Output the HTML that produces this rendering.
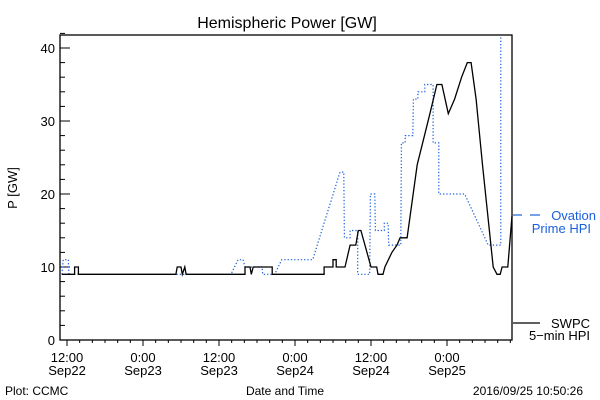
<!DOCTYPE html>
<html><head><meta charset="utf-8"><style>
body{margin:0;background:#fff;}
svg{display:block;font-family:"Liberation Sans",sans-serif;}
</style></head><body>
<svg id="chart" width="600" height="400" viewBox="0 0 600 400">
<rect width="600" height="400" fill="#fff"/>
<text x="287" y="28" font-size="16" text-anchor="middle">Hemispheric Power [GW]</text>
<rect x="60" y="35" width="452" height="305" fill="none" stroke="#000" stroke-width="1.3"/>
<g id="axes"></g>
<g id="series"></g>
<text transform="translate(17,188) rotate(-90)" font-size="13" text-anchor="middle">P [GW]</text>
<text x="285" y="395" font-size="12" text-anchor="middle">Date and Time</text>
<text x="5" y="395" font-size="12">Plot: CCMC</text>
<text x="583" y="395" font-size="12" text-anchor="end">2016/09/25 10:50:26</text>
<g>
<line x1="513" y1="215" x2="522" y2="215" stroke="#1a5fe0" stroke-width="1.2"/>
<line x1="530" y1="215" x2="540" y2="215" stroke="#1a5fe0" stroke-width="1.2"/>
<text x="596" y="220" font-size="13" fill="#1a5fe0" text-anchor="end">Ovation</text>
<text x="591" y="233" font-size="13" fill="#1a5fe0" text-anchor="end">Prime HPI</text>
</g>
<g>
<line x1="513" y1="323" x2="540" y2="323" stroke="#000" stroke-width="1.2"/>
<text x="590" y="328" font-size="13" text-anchor="end">SWPC</text>
<text x="590" y="340" font-size="13" text-anchor="end">5−min HPI</text>
</g>
</svg>
<script>
// hours since Sep22 12:00
const xTickHours=[0,12,24,36,48,60];
const xTickLabels1=["12:00","0:00","12:00","0:00","12:00","0:00"];
const xTickLabels2=["Sep22","Sep23","Sep23","Sep24","Sep24","Sep25"];
const yTicks=[0,10,20,30,40];
const swpcTimes=[-0.8,1.2,1.2,1.8,1.8,17.2,17.4,18.0,18.2,18.6,18.8,28.1,28.1,28.9,29.1,29.4,29.5,32.4,32.4,40.6,40.6,42.0,42.0,42.5,42.5,43.9,44.7,45.6,46.0,46.4,48.0,48.9,49.1,49.9,50.2,51.3,52.1,52.6,53.7,55.3,57.3,58.4,59.2,60.2,61.2,62.3,63.2,63.8,64.6,65.6,67.3,67.9,68.4,68.7,69.6,70.3];
const swpcValues=[9,9,10,10,9,9,10,10,9,10,9,9,10,10,9,10,10,10,9,9,10,10,11,11,10,10,13,13,15,15,10,10,9,9,10,12,13,14,14,24,31,35,35,31,33,36,38,38,33,24,10,9,9,10,10,17];
const ovTimes=[-0.8,-0.6,0.2,0.3,25.9,27.0,27.8,28.1,30.8,30.9,32.8,33.9,38.8,43.1,43.7,43.8,44.7,44.7,45.9,45.9,47.8,47.9,48.6,48.7,50.1,50.1,50.7,50.8,52.7,52.8,53.4,53.4,54.6,54.7,55.4,55.4,56.5,56.5,57.8,57.8,58.7,58.7,62.8,66.5,68.5,68.5];
const ovValues=[9,11,11,9,9,11,11,10,10,9,9,11,11,23,23,14,14,15,15,9,9,20,20,15,15,16,16,13,13,27,27,28,28,33,33,34,34,35,35,27,27,20,20,13,13,41.5];

const X=h=>67+h*76/12, Y=v=>340-v*7.3;
const NS="http://www.w3.org/2000/svg";
const ax=document.getElementById('axes'), se=document.getElementById('series');
function mk(tag,attrs,parent){const e=document.createElementNS(NS,tag);for(const k in attrs)e.setAttribute(k,attrs[k]);parent.appendChild(e);return e;}
// y ticks
for(let v=0;v<=42;v+=2){const l=mk('line',{x1:60,x2:v%10===0?70:65,y1:Y(v),y2:Y(v),stroke:'#000'},ax);

}
yTicks.forEach(v=>{const t=mk('text',{x:55,y:Y(v)+5,'font-size':13,'text-anchor':'end'},ax);t.textContent=v;

});
// x ticks
for(let h=0;h<=70;h+=2){const major=h%12===0;const l=mk('line',{x1:X(h),x2:X(h),y1:340,y2:major?346:343,stroke:'#000'},ax);

}
xTickHours.forEach((h,i)=>{const t=mk('text',{x:X(h),y:362,'font-size':13,'text-anchor':'middle'},ax);t.textContent=xTickLabels1[i];


const t2=mk('text',{x:X(h),y:375,'font-size':13,'text-anchor':'middle'},ax);t2.textContent=xTickLabels2[i];

});
function pts(ts,vs){return ts.map((t,i)=>Math.max(60,Math.min(512,X(t))).toFixed(1)+','+Math.max(35,Y(vs[i])).toFixed(1)).join(' ');}
const ov=mk('polyline',{points:pts(ovTimes,ovValues),fill:'none',stroke:'#1a5fe0','stroke-width':1.2,'stroke-dasharray':'1.3,2'},se);


const sw=mk('polyline',{points:pts(swpcTimes,swpcValues),fill:'none',stroke:'#000','stroke-width':1.3},se);


</script>
</body></html>
